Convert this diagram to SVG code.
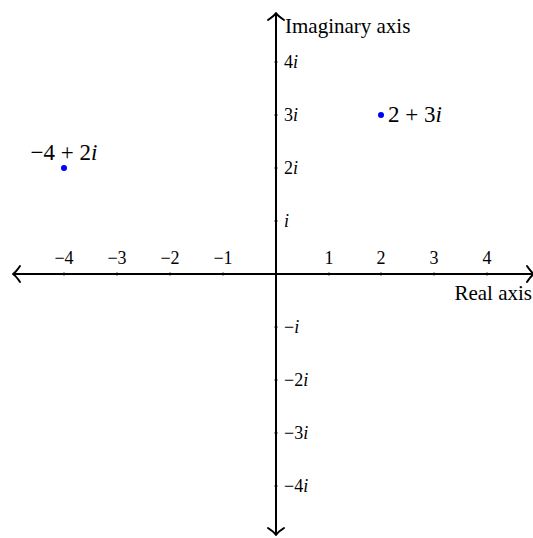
<svg xmlns="http://www.w3.org/2000/svg" width="533" height="538" viewBox="0 0 533 538">
<style>
.ax{stroke:#000;stroke-width:2;fill:none}
.ah{stroke:#000;stroke-width:2;fill:none;stroke-linecap:round;stroke-linejoin:round}
.tk{stroke:#000;stroke-width:1.2}
text{font-family:"Liberation Serif","Times New Roman",serif;fill:#000}
.t{font-size:18px}
.tt{font-size:21px}
.tl{font-size:23px}
.pt{fill:#0000ff}
</style>
<rect width="533" height="538" fill="#fff"/>
<g id="connectors">
<line class="ax" x1="13" y1="274" x2="533" y2="274"/>
<line class="ax" x1="276" y1="13" x2="276" y2="535"/>
<path class="ah" d="M20,266 Q16,272 13,274 Q16,276 20,282"/>
<path class="ah" d="M268,20 Q274,16 276,13 Q278,16 284,20"/>
<path class="ah" d="M268,528 Q274,532 276,535 Q278,532 284,528"/>
<path class="ah" d="M527,266 Q531,272 534,274 Q531,276 527,282"/>
</g>
<g id="ticks">
<g class="tk">
<line x1="64" y1="272.5" x2="64" y2="275.5"/>
<line x1="117" y1="272.5" x2="117" y2="275.5"/>
<line x1="170" y1="272.5" x2="170" y2="275.5"/>
<line x1="223" y1="272.5" x2="223" y2="275.5"/>
<line x1="329" y1="272.5" x2="329" y2="275.5"/>
<line x1="381" y1="272.5" x2="381" y2="275.5"/>
<line x1="434" y1="272.5" x2="434" y2="275.5"/>
<line x1="487" y1="272.5" x2="487" y2="275.5"/>
<line x1="274.5" y1="62" x2="277.5" y2="62"/>
<line x1="274.5" y1="115" x2="277.5" y2="115"/>
<line x1="274.5" y1="168" x2="277.5" y2="168"/>
<line x1="274.5" y1="221" x2="277.5" y2="221"/>
<line x1="274.5" y1="327" x2="277.5" y2="327"/>
<line x1="274.5" y1="380" x2="277.5" y2="380"/>
<line x1="274.5" y1="433" x2="277.5" y2="433"/>
<line x1="274.5" y1="486" x2="277.5" y2="486"/>
</g>
</g>
<g id="xlabels" text-anchor="middle">
<text class="t" x="64" y="264">−4</text>
<text class="t" x="117" y="264">−3</text>
<text class="t" x="170" y="264">−2</text>
<text class="t" x="223" y="264">−1</text>
<text class="t" x="329" y="264">1</text>
<text class="t" x="381" y="264">2</text>
<text class="t" x="434" y="264">3</text>
<text class="t" x="487" y="264">4</text>
</g>
<g id="ylabels">
<text class="t" x="284" y="68">4<tspan font-style="italic">i</tspan></text>
<text class="t" x="284" y="121">3<tspan font-style="italic">i</tspan></text>
<text class="t" x="284" y="174">2<tspan font-style="italic">i</tspan></text>
<text class="t" x="284" y="227"><tspan font-style="italic">i</tspan></text>
<text class="t" x="284" y="333">−<tspan font-style="italic">i</tspan></text>
<text class="t" x="284" y="386">−2<tspan font-style="italic">i</tspan></text>
<text class="t" x="284" y="439">−3<tspan font-style="italic">i</tspan></text>
<text class="t" x="284" y="492">−4<tspan font-style="italic">i</tspan></text>
</g>
<g id="axis-titles">
<text class="tt" x="285" y="33">Imaginary axis</text>
<text class="tt" x="532" y="300" text-anchor="end">Real axis</text>
</g>
<g id="point-a">
<circle class="pt" cx="64" cy="168" r="3"/>
<text class="tl" x="64" y="160" text-anchor="middle">−4 + 2<tspan font-style="italic">i</tspan></text>
</g>
<g id="point-b">
<circle class="pt" cx="381" cy="115" r="3"/>
<text class="tl" x="388" y="122">2 + 3<tspan font-style="italic">i</tspan></text>
</g>
</svg>
